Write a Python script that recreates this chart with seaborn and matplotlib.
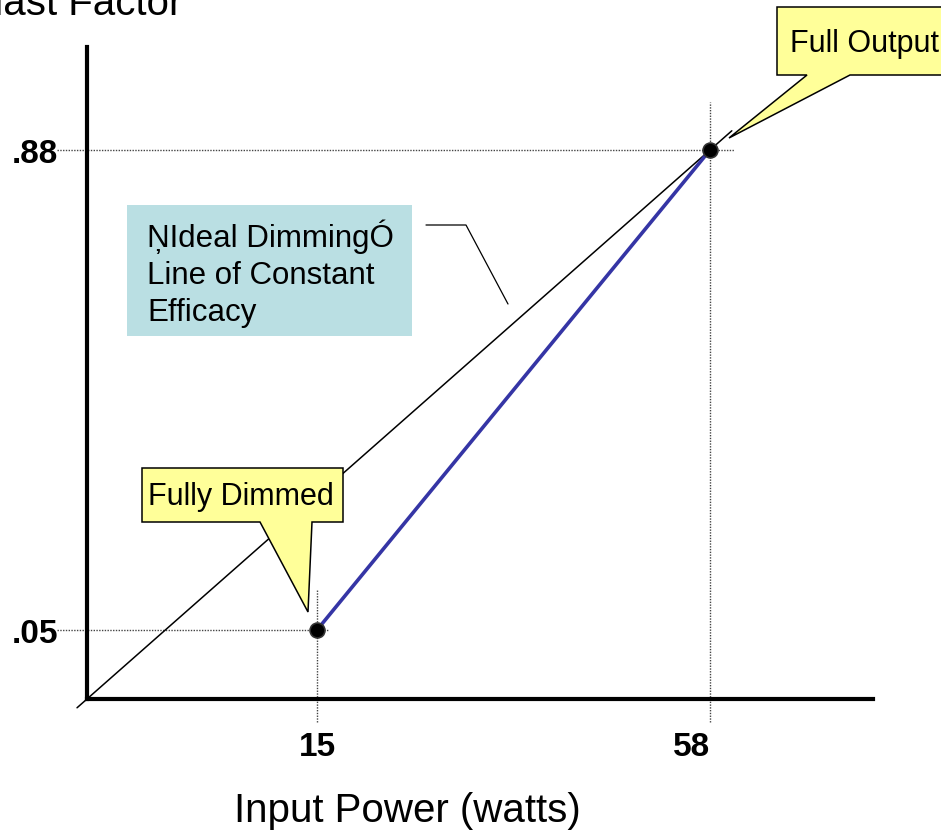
import numpy as np
import matplotlib.pyplot as plt
import seaborn as sns
from matplotlib.patches import Polygon, Rectangle
from matplotlib.lines import Line2D

# ── Style ─────────────────────────────────────────────────────
sns.set_theme(style="white")
plt.rcParams["font.family"] = ["Liberation Sans", "DejaVu Sans"]

W, H, DPI = 941, 837, 100

# ── Data ──────────────────────────────────────────────────────
power_w = [15, 58]
ballast_factor = [0.05, 0.88]
x_tick_labels = ["15", "58"]
y_tick_labels = [".05", ".88"]
ideal_w = [0, 58]
ideal_bf = [0, 0.88]

# schematic axes (not to scale): data knots -> pixel distance from origin
x_knots, x_knot_px = [0, 15, 58], [0, 230, 623]
y_knots, y_knot_px = [0, 0.05, 0.88], [0, 69, 549]

AX_LEFT, AX_RIGHT, AX_TOP, AX_BOTTOM = 87, 873, 48, 700


def piecewise(src, dst):
    """Piecewise-linear map with linear extrapolation at both ends."""
    src = np.asarray(src, float)
    dst = np.asarray(dst, float)
    lo = (dst[1] - dst[0]) / (src[1] - src[0])
    hi = (dst[-1] - dst[-2]) / (src[-1] - src[-2])

    def f(v):
        v = np.asarray(v, float)
        out = np.interp(v, src, dst)
        out = np.where(v < src[0], dst[0] + (v - src[0]) * lo, out)
        return np.where(v > src[-1], dst[-1] + (v - src[-1]) * hi, out)

    return f


def fig_xy(pts):
    """Top-left pixel coords -> figure fraction."""
    return [(x / W, 1 - y / H) for x, y in pts]


fig = plt.figure(figsize=(W / DPI, H / DPI), dpi=DPI)
ax = fig.add_axes([
    AX_LEFT / W,
    1 - AX_BOTTOM / H,
    (AX_RIGHT - AX_LEFT) / W,
    (AX_BOTTOM - AX_TOP) / H,
])
ax.set_facecolor("white")
ax.set_xscale("function", functions=(piecewise(x_knots, x_knot_px),
                                     piecewise(x_knot_px, x_knots)))
ax.set_yscale("function", functions=(piecewise(y_knots, y_knot_px),
                                     piecewise(y_knot_px, y_knots)))
ax.set_xlim(0, float(piecewise(x_knot_px, x_knots)(AX_RIGHT - AX_LEFT)))
ax.set_ylim(0, float(piecewise(y_knot_px, y_knots)(AX_BOTTOM - AX_TOP)))


def to_px(x, y):
    d = ax.transData.transform((x, y))
    return d[0], H - d[1]


def to_data(px, py):
    return ax.transData.inverted().transform((px, H - py))


# ── Dotted guide lines ────────────────────────────────────────
guide = dict(color="#444444", lw=1.0, ls=(0, (1, 1)), clip_on=False, zorder=2)
for x, y, right_ext, up_ext in zip(power_w, ballast_factor, [12, 24], [41, 48]):
    px, py = to_px(x, y)
    x0 = to_data(AX_LEFT - 30, py)[0]
    x1 = to_data(px + right_ext, py)[0]
    ax.plot([x0, x1], [y, y], **guide)
    y0 = to_data(px, AX_BOTTOM + 23)[1]
    y1 = to_data(px, py - up_ext)[1]
    ax.plot([x, x], [y0, y1], **guide)

# ── Ideal dimming line (slightly extended past its ends) ─────
p0 = np.array(to_px(ideal_w[0], ideal_bf[0]))
p1 = np.array(to_px(ideal_w[1], ideal_bf[1]))
ends = [to_data(*(p0 + t * (p1 - p0))) for t in (-0.016, 1.035)]
ax.plot([e[0] for e in ends], [e[1] for e in ends], color="black", lw=1.1,
        clip_on=False, zorder=3)

# ── Actual dimming curve ──────────────────────────────────────
sns.lineplot(x=power_w, y=ballast_factor, color="#3535A5", lw=2.6, ax=ax, zorder=4)
sns.scatterplot(x=power_w, y=ballast_factor, s=115, color="black",
                edgecolor="#333333", linewidth=1.2, zorder=5, ax=ax, clip_on=False)

# ── Axes styling ──────────────────────────────────────────────
for side in ("top", "right"):
    ax.spines[side].set_visible(False)
for side in ("left", "bottom"):
    ax.spines[side].set_color("black")
    ax.spines[side].set_linewidth(3)

ax.set_xticks(power_w, x_tick_labels)
ax.set_yticks(ballast_factor, y_tick_labels)
ax.minorticks_off()
ax.tick_params(axis="x", length=0, labelsize=24, pad=23, colors="black")
ax.tick_params(axis="y", length=0, labelsize=24, pad=21, colors="black")
for lbl in ax.get_xticklabels() + ax.get_yticklabels():
    lbl.set_fontweight("bold")
ax.get_xticklabels()[1].set_horizontalalignment("right")
ax.grid(False)

ax.set_xlabel("Input Power (watts)", fontsize=29, color="black")
ax.xaxis.set_label_coords((407 - AX_LEFT) / (AX_RIGHT - AX_LEFT),
                          -(792 - AX_BOTTOM) / (AX_BOTTOM - AX_TOP))
ax.set_ylabel("")

fig.text(182 / W, 1 - 15 / H, "Ballast Factor", ha="right", va="baseline",
         fontsize=29, color="black")

# ── Ideal dimming note ────────────────────────────────────────
fig.add_artist(Rectangle((127 / W, 1 - 337 / H), (412 - 127) / W, (337 - 206) / H,
                         transform=fig.transFigure, fc="#BADFE3", ec="none", zorder=6))
fig.text(147 / W, 1 - 220 / H, "ŅIdeal DimmingÓ\nLine of Constant\nEfficacy",
         ha="left", va="top", fontsize=22.5, linespacing=1.3, color="black", zorder=7)
xs, ys = zip(*fig_xy([(426, 226), (466, 226), (508, 305)]))
fig.add_artist(Line2D(xs, ys, transform=fig.transFigure, color="black", lw=0.9))

# ── Callouts ──────────────────────────────────────────────────
callouts = [
    ([(777, 8), (950, 8), (950, 76), (850, 76), (729, 139), (807, 76), (777, 76)],
     "Full Output", (790, 44)),
    ([(142, 469), (343, 469), (343, 523), (312, 523), (308, 613), (260, 523), (142, 523)],
     "Fully Dimmed", (148, 497)),
]
for pts, label, (tx, ty) in callouts:
    fig.add_artist(Polygon(fig_xy(pts), closed=True, transform=fig.transFigure,
                           fc="#FFFF99", ec="black", lw=1.1, zorder=8))
    fig.text(tx / W, 1 - ty / H, label, ha="left", va="center", fontsize=22,
             color="black", zorder=9)

fig.savefig("out.png", dpi=DPI)
